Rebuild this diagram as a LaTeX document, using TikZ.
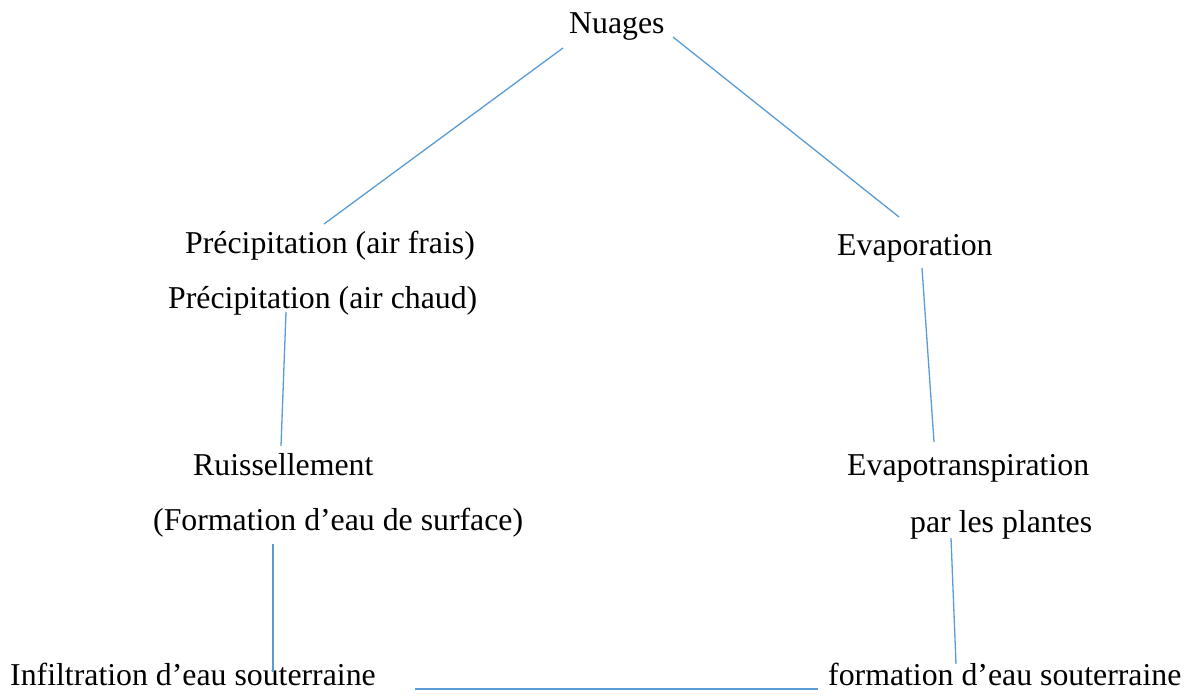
\documentclass[tikz,border=0pt]{standalone}
\usepackage{fontspec}
\setmainfont{Liberation Serif}
\usepackage{tikz}
\usetikzlibrary{calc,positioning}
\definecolor{linkblue}{RGB}{91,155,213}
\tikzset{
    lbl/.style={anchor=base west, inner sep=0pt, font=\fontsize{31.8}{38}\selectfont},
    link/.style={draw=linkblue, line width=1.3pt}
}

\begin{document}
\begin{tikzpicture}[x=1pt,y=-1pt]
                \useasboundingbox (0,0) rectangle (1192,699);
                %Nodes
                \node[lbl] (nuages) at (569,33) {Nuages};
                \node[lbl] (frais) at (185,253) {Précipitation (air frais)};
                \node[lbl] (chaud) at (168,308) {Précipitation (air chaud)};
                \node[lbl] (evap) at (837,255) {Evaporation};
                \node[lbl] (ruiss) at (193,475) {Ruissellement};
                \node[lbl] (surface) at (153,530) {(Formation d’eau de surface)};
                \node[lbl] (evapo) at (847,475) {Evapotranspiration};
                \node[lbl] (plantes) at (910,532) {par les plantes};
                \node[lbl] (infil) at (10,685) {Infiltration d’eau souterraine};
                \node[lbl] (formation) at (828,685) {formation d’eau souterraine};
                %Edges
                \draw[link] ([shift={(-6,15)}]nuages.base west) -- ([shift={(139,-29)}]frais.base west);
                \draw[link] ([shift={(104,4)}]nuages.base west) -- ([shift={(62,-38)}]evap.base west);
                \draw[link] ([shift={(118,4)}]chaud.base west) -- ([shift={(88,-29)}]ruiss.base west);
                \draw[link] ([shift={(120,14)}]surface.base west) -- ([shift={(263,-13)}]infil.base west);
                \draw[link] ([shift={(39,4)}]infil.base east) -- ([shift={(-10,4)}]formation.base west);
                \draw[link] ([shift={(85,13)}]evap.base west) -- ([shift={(87,-33)}]evapo.base west);
                \draw[link] ([shift={(41,6)}]plantes.base west) -- ([shift={(128,-21)}]formation.base west);
\end{tikzpicture}
\end{document}
